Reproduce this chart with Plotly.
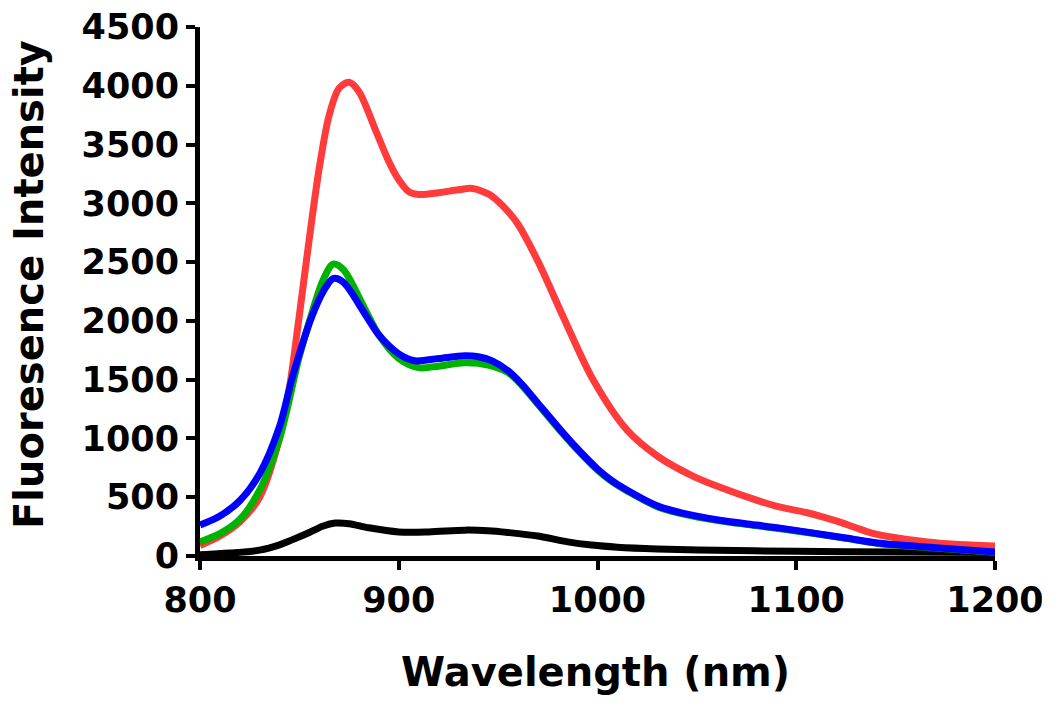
import plotly.graph_objects as go

# Wavelength (nm) sample points per series and fluorescence intensities
wl_red = [800, 810, 820, 830, 840, 845, 850, 855, 860, 865, 870, 875, 880, 888, 895, 900, 905, 910,
          920, 930, 937, 945, 950, 955, 960, 970, 983, 998, 1015, 1031, 1048,
          1060, 1080, 1092, 1105, 1115, 1122, 1130, 1138, 1150, 1166, 1180, 1200]
red = [90, 170, 290, 500, 1000, 1430, 2050, 2700, 3300, 3750, 3980, 4030, 3950, 3636, 3356, 3200, 3100, 3076,
       3090, 3115, 3127, 3080, 3017, 2930, 2822, 2508, 2025, 1492, 1068, 840, 680,
       595, 475, 415, 370, 325, 288, 240, 195, 155, 119, 100, 85]

wl_green = [800, 810, 820, 830, 840, 850, 856, 862, 867, 872, 883, 890, 900, 910, 920, 933, 945, 955,
            962, 970, 976, 982, 990, 1000, 1007, 1015, 1031, 1048, 1065, 1080, 1092, 1125, 1141, 1170, 1200]
green = [120, 190, 310, 560, 1000, 1700, 2050, 2350, 2483, 2440, 2100, 1880, 1680, 1602, 1615, 1644, 1625, 1560,
         1450, 1290, 1170, 1050, 900, 730, 636, 552, 413, 340, 290, 258, 232, 150, 107, 68, 32]

wl_blue = [800, 810, 820, 830, 840, 846, 850, 856, 862, 867, 872, 883, 890, 900, 908, 920, 933,
           940, 947, 955, 962, 970, 976, 982, 990, 1000, 1007, 1015, 1031, 1048, 1065, 1080, 1092, 1125, 1141,
           1170, 1200]
blue = [263, 340, 470, 700, 1100, 1492, 1720, 2025, 2250, 2360, 2330, 2059, 1880, 1720, 1661, 1680, 1703,
        1695, 1660, 1575, 1460, 1300, 1180, 1060, 910, 740, 644, 559, 420, 345, 295, 263, 237, 153, 110,
        70, 34]

wl_black = [800, 815, 830, 840, 846, 855, 862, 868, 875, 885, 900, 915, 933, 945, 955, 970, 985, 997,
            1010, 1030, 1051, 1100, 1150, 1200]
black = [10, 25, 50, 95, 135, 200, 255, 280, 275, 240, 205, 205, 220, 215, 200, 170, 120, 93,
         75, 60, 51, 40, 35, 30]

x_ticks = [800, 900, 1000, 1100, 1200]
y_ticks = [0, 500, 1000, 1500, 2000, 2500, 3000, 3500, 4000, 4500]

FONT = "DejaVu Sans"
LW = 7

fig = go.Figure()
for xs, ys, col in [(wl_black, black, "#000000"), (wl_red, red, "#ff3b3b"),
                    (wl_green, green, "#00b300"), (wl_blue, blue, "#0000ff")]:
    fig.add_trace(go.Scatter(x=xs, y=ys, mode="lines",
                             line=dict(color=col, width=LW, shape="spline", smoothing=0.9),
                             showlegend=False, hoverinfo="skip"))

axis_common = dict(showgrid=False, zeroline=False, showline=True, linecolor="black", linewidth=5,
                   ticks="outside", ticklen=9, tickwidth=4, tickcolor="black", automargin=False,
                   ticklabeloverflow="allow",
                   tickfont=dict(family=FONT, size=35, color="black", weight="bold"))

fig.update_xaxes(range=[800, 1200], tickvals=x_ticks, ticktext=[str(v) for v in x_ticks], **axis_common)
fig.update_yaxes(range=[0, 4500], tickvals=y_ticks, ticktext=[str(v) for v in y_ticks], **axis_common)

# page body has an 8px offset: figure coordinates = screen - 8
W, H = 1042, 699
OFF = 8
L, R, T, B = 192, 55, 19, 151
PW = W - L - R
PH = H - T - B
bottom = H - B  # figure y of plot bottom

fig.add_annotation(text="Wavelength (nm)", xref="paper", yref="paper", x=(595 - OFF - L) / PW, y=0,
                   yshift=-((672 - OFF) - bottom), showarrow=False, xanchor="center", yanchor="middle",
                   font=dict(family=FONT, size=40, color="black", weight="bold"))
fig.add_annotation(text="Fluoresence Intensity", xref="paper", yref="paper", x=0,
                   y=(bottom - (285 - OFF)) / PH,
                   xshift=(29 - OFF) - L, showarrow=False, textangle=-90, xanchor="center", yanchor="middle",
                   font=dict(family=FONT, size=40, color="black", weight="bold"))

fig.update_layout(width=W, height=H, margin=dict(l=L, r=R, t=T, b=B),
                  plot_bgcolor="white", paper_bgcolor="white")

fig.write_html("out.html")
